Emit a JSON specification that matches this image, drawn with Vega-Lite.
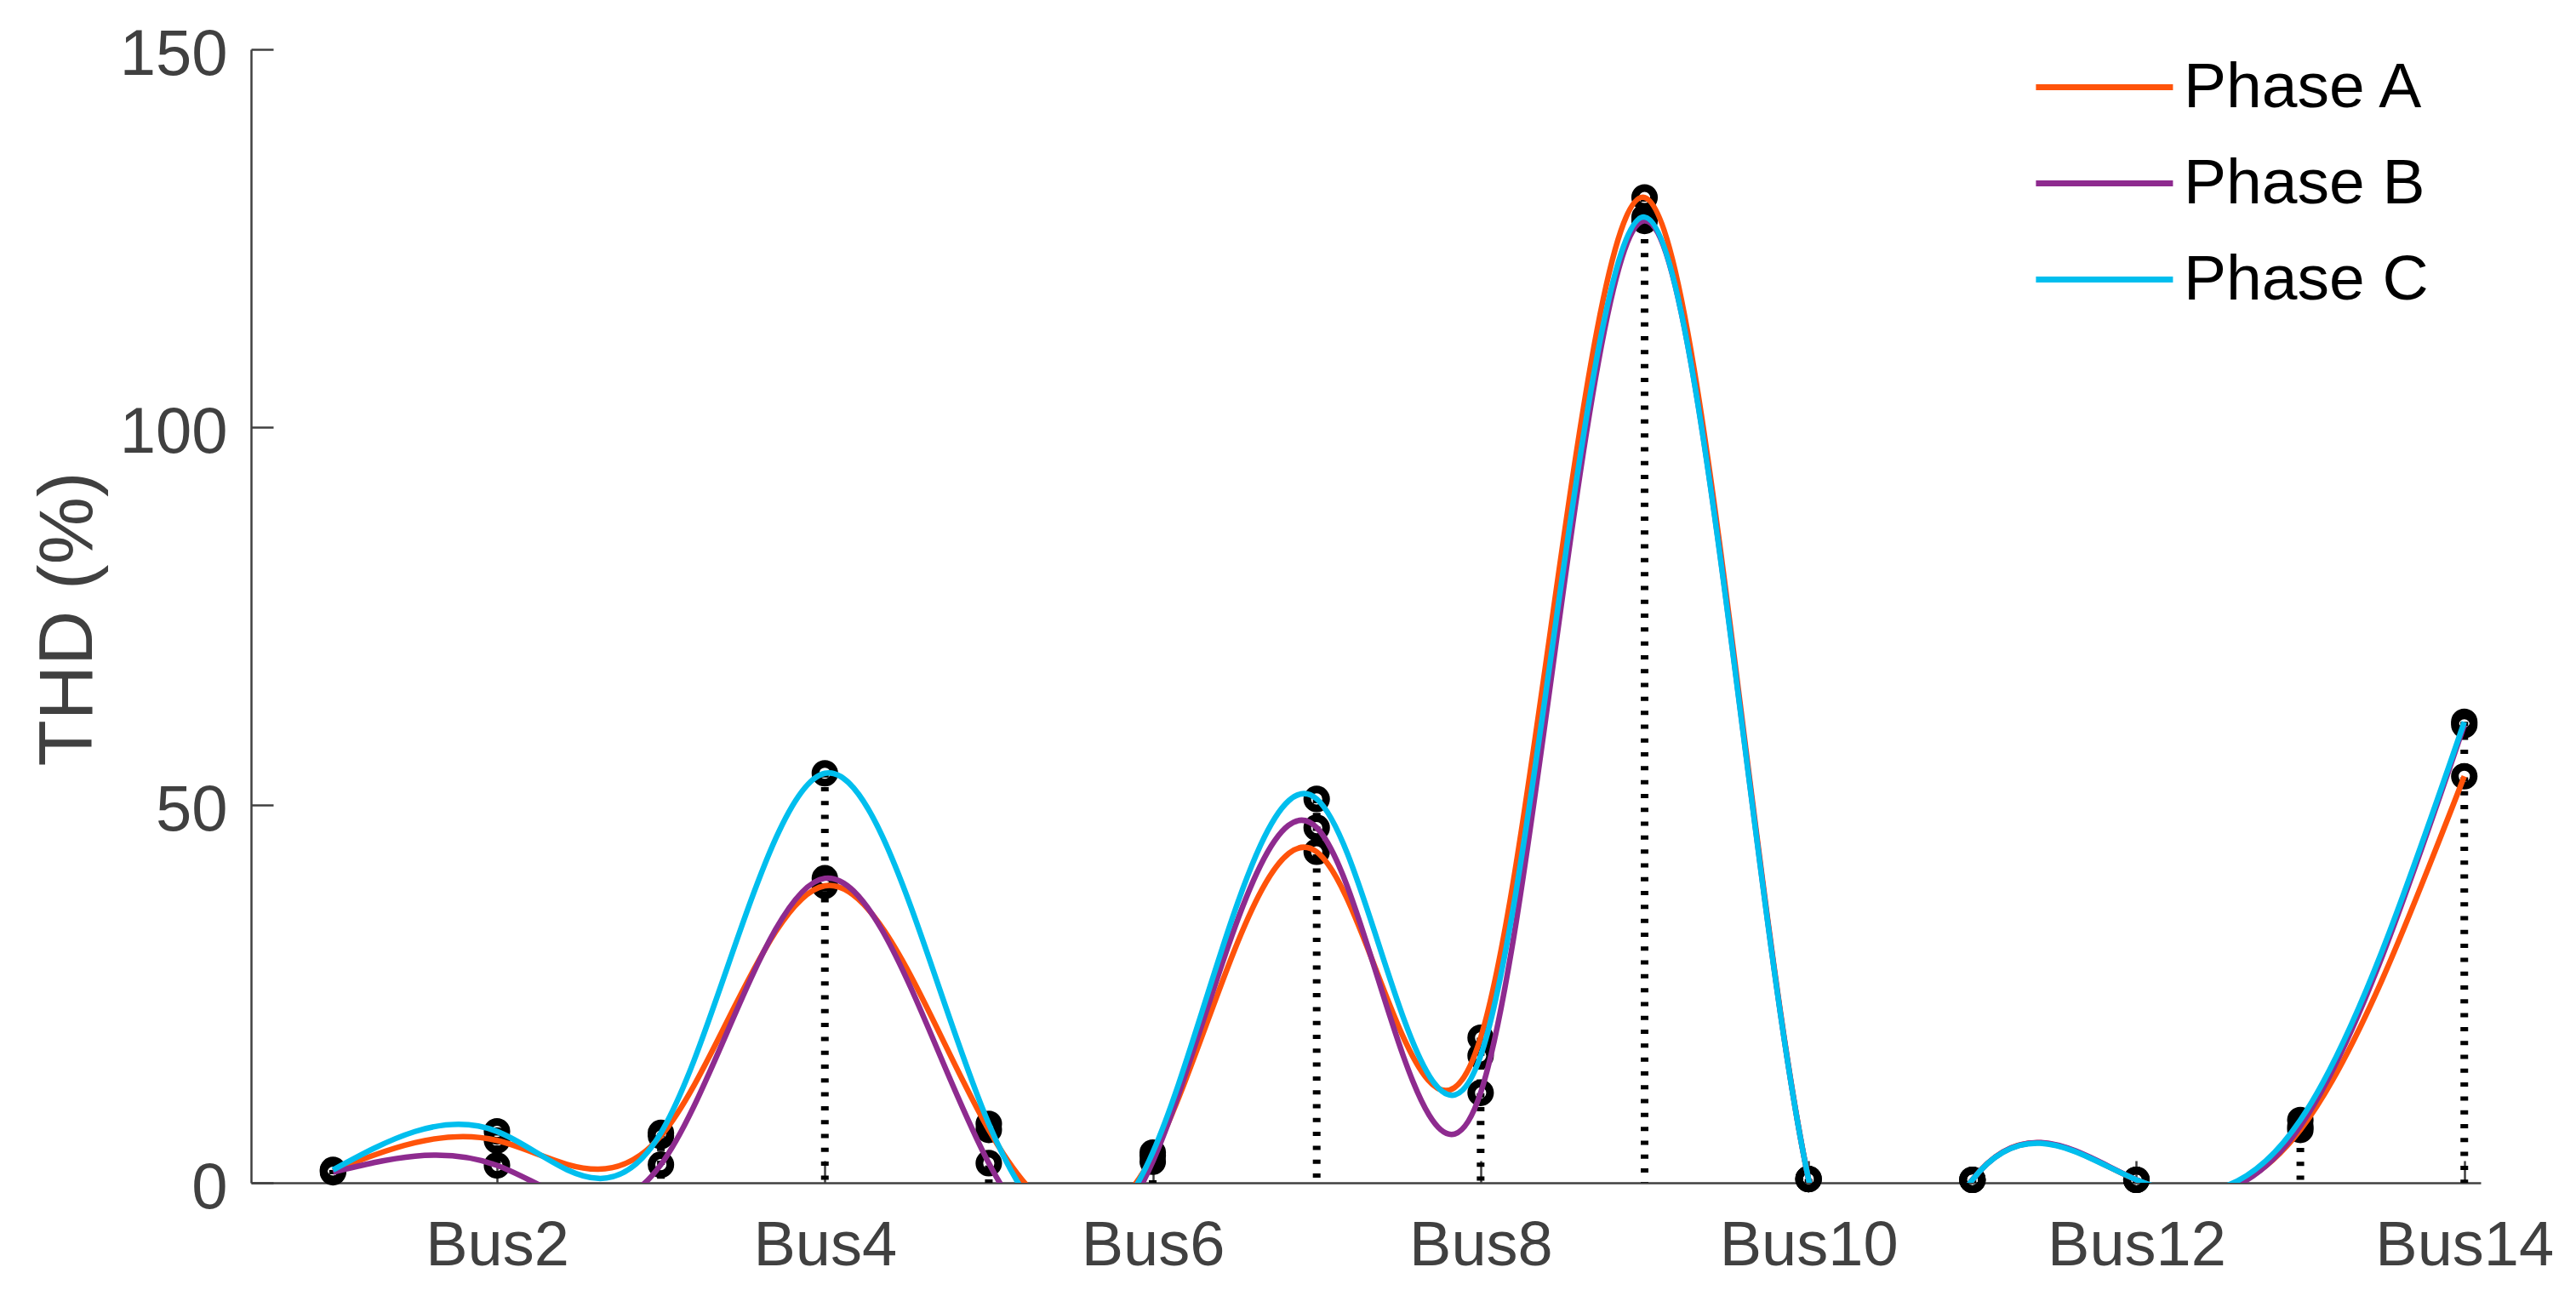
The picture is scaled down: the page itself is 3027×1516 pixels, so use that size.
{
  "$schema": "https://vega.github.io/schema/vega-lite/v6.json",
  "width": 2620,
  "height": 1332,
  "autosize": {"type": "none"},
  "padding": {"left": 295, "top": 58, "right": 112, "bottom": 126},
  "background": "white",
  "config": {
    "view": {"stroke": null},
    "font": "Arial, Liberation Sans, sans-serif",
    "axis": {
      "grid": false,
      "domainColor": "#404040",
      "domainWidth": 2.5,
      "tickColor": "#404040",
      "tickWidth": 2.5,
      "tickSize": -26,
      "labelColor": "#404040",
      "labelFont": "Arial, Liberation Sans, sans-serif",
      "titleFont": "Arial, Liberation Sans, sans-serif",
      "labelFlush": false,
      "labelOverlap": false,
      "labelBound": false,
      "labelLimit": 0
    },
    "legend": {"labelLimit": 0}
  },
  "data": {
    "values": [
      {"bus": 1, "phase": "Phase A", "thd": 1.6},
      {"bus": 1, "phase": "Phase B", "thd": 1.4},
      {"bus": 1, "phase": "Phase C", "thd": 1.7},
      {"bus": 2, "phase": "Phase A", "thd": 5.6},
      {"bus": 2, "phase": "Phase B", "thd": 2.3},
      {"bus": 2, "phase": "Phase C", "thd": 6.8},
      {"bus": 3, "phase": "Phase A", "thd": 6.2},
      {"bus": 3, "phase": "Phase B", "thd": 2.4},
      {"bus": 3, "phase": "Phase C", "thd": 6.6},
      {"bus": 4, "phase": "Phase A", "thd": 39.3},
      {"bus": 4, "phase": "Phase B", "thd": 40.3},
      {"bus": 4, "phase": "Phase C", "thd": 54.2},
      {"bus": 5, "phase": "Phase A", "thd": 7.0},
      {"bus": 5, "phase": "Phase B", "thd": 2.6},
      {"bus": 5, "phase": "Phase C", "thd": 7.8},
      {"bus": 6, "phase": "Phase A", "thd": 3.6},
      {"bus": 6, "phase": "Phase B", "thd": 2.8},
      {"bus": 6, "phase": "Phase C", "thd": 4.0},
      {"bus": 7, "phase": "Phase A", "thd": 43.8},
      {"bus": 7, "phase": "Phase B", "thd": 47.0},
      {"bus": 7, "phase": "Phase C", "thd": 50.8},
      {"bus": 8, "phase": "Phase A", "thd": 19.2},
      {"bus": 8, "phase": "Phase B", "thd": 11.9},
      {"bus": 8, "phase": "Phase C", "thd": 16.8},
      {"bus": 9, "phase": "Phase A", "thd": 130.4},
      {"bus": 9, "phase": "Phase B", "thd": 127.3},
      {"bus": 9, "phase": "Phase C", "thd": 127.8},
      {"bus": 10, "phase": "Phase A", "thd": 0.5},
      {"bus": 10, "phase": "Phase B", "thd": 0.5},
      {"bus": 10, "phase": "Phase C", "thd": 0.5},
      {"bus": 11, "phase": "Phase A", "thd": 0.4},
      {"bus": 11, "phase": "Phase B", "thd": 0.4},
      {"bus": 11, "phase": "Phase C", "thd": 0.4},
      {"bus": 12, "phase": "Phase A", "thd": 0.4},
      {"bus": 12, "phase": "Phase B", "thd": 0.4},
      {"bus": 12, "phase": "Phase C", "thd": 0.4},
      {"bus": 13, "phase": "Phase A", "thd": 7.0},
      {"bus": 13, "phase": "Phase B", "thd": 7.5},
      {"bus": 13, "phase": "Phase C", "thd": 8.3},
      {"bus": 14, "phase": "Phase A", "thd": 53.8},
      {"bus": 14, "phase": "Phase B", "thd": 60.6},
      {"bus": 14, "phase": "Phase C", "thd": 61.0}
    ]
  },
  "layer": [
    {
      "mark": {"type": "rule", "color": "black", "strokeWidth": 9, "strokeDash": [5, 11.3]},
      "encoding": {
        "x": {"field": "bus", "type": "quantitative"},
        "y": {"field": "thd", "type": "quantitative", "aggregate": "max"},
        "y2": {"datum": 0}
      }
    },
    {
      "mark": {"type": "point", "shape": "circle", "filled": false, "stroke": "black", "strokeWidth": 9, "size": 490, "opacity": 1},
      "encoding": {
        "x": {"field": "bus", "type": "quantitative"},
        "y": {"field": "thd", "type": "quantitative"}
      }
    },
    {
      "mark": {"type": "line", "interpolate": "natural", "strokeWidth": 6.5, "clip": true},
      "encoding": {
        "x": {
          "field": "bus",
          "type": "quantitative",
          "scale": {"domain": [0.5, 14.1], "nice": false, "zero": false},
          "axis": {
            "values": [2, 4, 6, 8, 10, 12, 14],
            "labelExpr": "'Bus' + datum.value",
            "labelFontSize": 74,
            "labelPadding": 64,
            "title": null
          }
        },
        "y": {
          "field": "thd",
          "type": "quantitative",
          "scale": {"domain": [0, 150], "nice": false},
          "axis": {
            "values": [0, 50, 100, 150],
            "labelFontSize": 76,
            "labelPadding": 54,
            "labelOffset": 6,
            "title": "THD (%)",
            "titleFontSize": 89,
            "titleFontWeight": "normal",
            "titleColor": "#404040",
            "titleAngle": 270,
            "titleX": -188,
            "titleY": 669,
            "titleAlign": "center",
            "titleBaseline": "alphabetic"
          }
        },
        "color": {
          "field": "phase",
          "type": "nominal",
          "scale": {"domain": ["Phase A", "Phase B", "Phase C"], "range": ["#FF530A", "#8E2B8F", "#00BEEE"]},
          "legend": {
            "title": null,
            "orient": "none",
            "legendX": 2076,
            "legendY": 7,
            "padding": 0,
            "symbolType": "M-1,0H9",
            "symbolSize": 1037,
            "symbolStrokeWidth": 7,
            "labelOffset": 120,
            "labelFontSize": 75,
            "labelColor": "black",
            "labelLimit": 0,
            "labelFont": "Arial, Liberation Sans, sans-serif",
            "rowPadding": 37
          }
        }
      }
    }
  ]
}
